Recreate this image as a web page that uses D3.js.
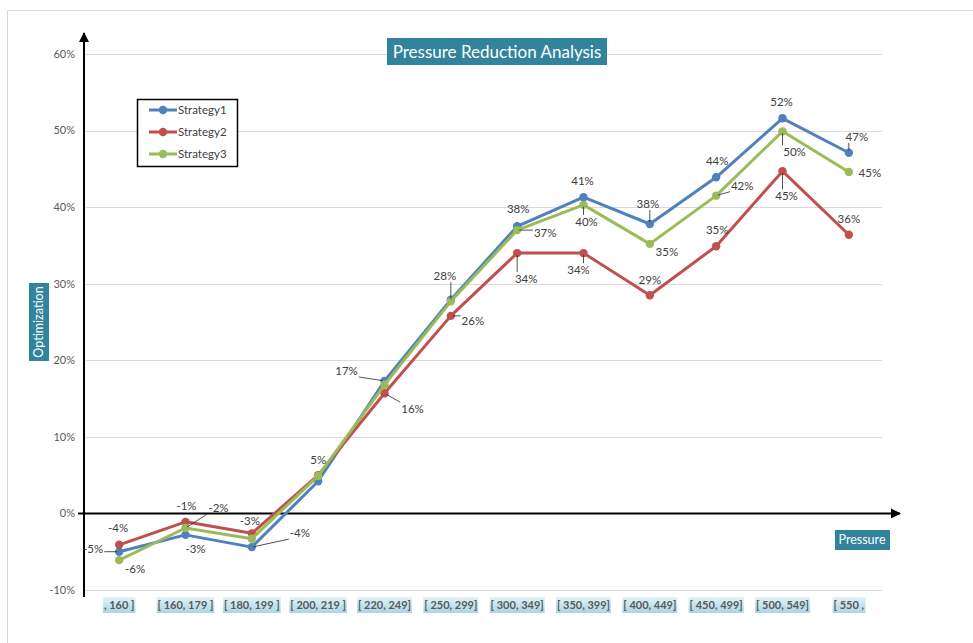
<!DOCTYPE html>
<html>
<head>
<meta charset="utf-8">
<script src="https://cdn.jsdelivr.net/npm/d3@7/dist/d3.min.js"></script>
<style>
  html, body { margin: 0; padding: 0; background: #fff; }
  svg { display: block; font-family: Lato, "Open Sans", "Noto Sans", sans-serif; }
</style>
</head>
<body>
<svg id="chart" width="973" height="643"></svg>
<script>
// ---- data ----
const categories = [", 160 ]", "[ 160, 179 ]", "[ 180, 199 ]", "[ 200, 219 ]", "[ 220, 249]", "[ 250, 299]",
  "[ 300, 349]", "[ 350, 399]", "[ 400, 449]", "[ 450, 499]", "[ 500, 549]", "[ 550 ,"];
const seriesNames = ["Strategy1", "Strategy2", "Strategy3"];
const strategy1 = [-5.0, -2.8, -4.4, 4.2, 17.3, 27.9, 37.5, 41.3, 37.8, 43.9, 51.6, 47.1];
const strategy2 = [-4.1, -1.1, -2.6, 5.0, 15.7, 25.8, 34.0, 34.0, 28.5, 34.9, 44.7, 36.4];
const strategy3 = [-6.1, -1.9, -3.3, 4.9, 16.8, 27.7, 37.0, 40.3, 35.2, 41.5, 49.9, 44.6];
const yTicks = [-10, 0, 10, 20, 30, 40, 50, 60];

// ---- label placement (offset from the point, null = no label, third value 1 = draw a connector) ----
const labelOffsets1 = [[-26, -3, 1], [10, 14, 0], [48, -14, 1], null, [-38, -10, 1], null,
  [1, -17, 0], [-1, -16, 0], [-2, -20, 1], [1, -16, 0], [-1, -16, 0], [8, -16, 1]];
const labelOffsets2 = [[-1, -17, 0], [1, -16, 0], [-2, -12, 0], [0, -15, 0], [28, 16, 1], [22, 5, 1],
  [9, 26, 1], [-5, 17, 1], [0, -15, 0], [1, -16, 0], [4, 25, 1], [0, -16, 0]];
const labelOffsets3 = [[16, 9, 0], [33, -20, 1], null, null, null, [-6, -25, 1],
  [28, 3, 1], [3, 17, 1], [17, 8, 0], [26, -10, 1], [12, 21, 1], [21, 1, 0]];

const colors = ["#4F81BD", "#C0504D", "#9BBB59"];
const teal = "#31849B";

const svg = d3.select("#chart");

// outer chart frame (only top and left edges fall inside the view)
svg.append("path").attr("d", "M7.5,643 V10.5 H973").attr("fill", "none").attr("stroke", "#d9d9d9").attr("stroke-width", 1);

const x = d3.scalePoint().domain(categories).range([86, 882]).padding(0.5);
const y = d3.scaleLinear().domain([-10, 60]).range([590, 54]);

// gridlines
svg.append("g").selectAll("line").data(yTicks).join("line")
  .attr("x1", 86).attr("x2", 882)
  .attr("y1", d => Math.round(y(d)) + 0.5).attr("y2", d => Math.round(y(d)) + 0.5)
  .attr("stroke", "#d9d9d9").attr("stroke-width", 1);

// y tick labels
svg.append("g").selectAll("text").data(yTicks).join("text")
  .attr("x", 75).attr("y", d => y(d)).attr("dy", "0.35em")
  .attr("text-anchor", "end").attr("font-size", 11).attr("fill", "#595959")
  .text(d => d + "%");

// arrowhead marker
const defs = svg.append("defs");
defs.append("marker").attr("id", "arrow").attr("viewBox", "0 0 10 10")
  .attr("refX", 9).attr("refY", 5).attr("markerWidth", 5).attr("markerHeight", 5)
  .attr("orient", "auto-start-reverse")
  .append("path").attr("d", "M0,0 L10,5 L0,10 z").attr("fill", "#000");

const lg = defs.append("linearGradient").attr("id", "catbg").attr("x1", 0).attr("x2", 0).attr("y1", 0).attr("y2", 1);
lg.append("stop").attr("offset", "0%").attr("stop-color", "#e4f2f7");
lg.append("stop").attr("offset", "100%").attr("stop-color", "#a9d6e3");

// category labels with shaded backgrounds
const catG = svg.append("g").selectAll("g").data(categories).join("g")
  .attr("transform", d => `translate(${x(d)},605)`);
catG.append("text")
  .attr("text-anchor", "middle").attr("dy", "0.35em")
  .attr("font-size", 11).attr("font-weight", 700).attr("fill", "#595959")
  .text(d => d);
catG.each(function () {
  const g = d3.select(this);
  const bb = g.select("text").node().getBBox();
  g.insert("rect", "text").attr("x", bb.x - 1).attr("y", -8).attr("width", bb.width + 2).attr("height", 16)
    .attr("fill", "url(#catbg)");
});

// axes with arrows
svg.append("line").attr("x1", 84).attr("x2", 84).attr("y1", 597).attr("y2", 33)
  .attr("stroke", "#000").attr("stroke-width", 2).attr("marker-end", "url(#arrow)");
svg.append("line").attr("x1", 78).attr("x2", 900).attr("y1", y(0)).attr("y2", y(0))
  .attr("stroke", "#000").attr("stroke-width", 2).attr("marker-end", "url(#arrow)");

// series
const allSeries = [strategy1, strategy2, strategy3];
const allOffsets = [labelOffsets1, labelOffsets2, labelOffsets3];
const line = d3.line().x((d, i) => x(categories[i])).y(d => y(d));
const fmt = v => (v < 0 ? -Math.round(-v) : Math.round(v)) + "%";

allSeries.forEach((vals, s) => {
  const g = svg.append("g");
  g.append("path").datum(vals).attr("d", line)
    .attr("fill", "none").attr("stroke", colors[s]).attr("stroke-width", 3).attr("stroke-linejoin", "round");
  g.selectAll("circle").data(vals).join("circle")
    .attr("cx", (d, i) => x(categories[i])).attr("cy", d => y(d)).attr("r", 4.2)
    .attr("fill", colors[s]);
});

// data labels and leader lines
const labelLayer = svg.append("g");
allSeries.forEach((vals, s) => {
  vals.forEach((v, i) => {
    const off = allOffsets[s][i];
    if (!off) return;
    const px = x(categories[i]), py = y(v);
    const lx = px + off[0], ly = py + off[1];
    const t = labelLayer.append("text").attr("x", lx).attr("y", ly).attr("dy", "0.35em")
      .attr("text-anchor", "middle").attr("font-size", 11.5).attr("fill", "#404040").text(fmt(v));
    if (off[2]) {
      const bb = t.node().getBBox();
      const ex = Math.max(bb.x - 1, Math.min(px, bb.x + bb.width + 1));
      const ey = Math.max(bb.y, Math.min(py, bb.y + bb.height));
      const ang = Math.atan2(py - ey, px - ex);
      const len = Math.hypot(px - ex, py - ey);
      labelLayer.append("line")
        .attr("x1", ex).attr("y1", ey)
        .attr("x2", ex + Math.cos(ang) * (len - 2)).attr("y2", ey + Math.sin(ang) * (len - 2))
        .attr("stroke", "#262626").attr("stroke-width", 0.8);
    }
  });
});

// title
const tg = svg.append("g");
tg.append("rect").attr("x", 387).attr("y", 38).attr("width", 220).attr("height", 27).attr("fill", teal);
tg.append("text").attr("x", 497).attr("y", 52).attr("dy", "0.35em").attr("text-anchor", "middle")
  .attr("font-size", 17).attr("fill", "#fff").text("Pressure Reduction Analysis");

// axis titles
const yt = svg.append("g").attr("transform", "translate(39,322) rotate(-90)");
yt.append("rect").attr("x", -39).attr("y", -10).attr("width", 78).attr("height", 20).attr("fill", teal);
yt.append("text").attr("dy", "0.35em").attr("text-anchor", "middle").attr("font-size", 12.5)
  .attr("fill", "#fff").text("Optimization");

const xt = svg.append("g").attr("transform", "translate(862,540)");
xt.append("rect").attr("x", -27).attr("y", -10).attr("width", 55).attr("height", 20).attr("fill", teal);
xt.append("text").attr("dy", "0.35em").attr("text-anchor", "middle").attr("font-size", 12.5)
  .attr("fill", "#fff").text("Pressure");

// legend
const leg = svg.append("g").attr("transform", "translate(137,99)");
leg.append("rect").attr("x", 0.5).attr("y", 0.5).attr("width", 100).attr("height", 67)
  .attr("fill", "#fff").attr("stroke", "#000").attr("stroke-width", 1.5);
const items = leg.selectAll("g.item").data(seriesNames).join("g").attr("class", "item")
  .attr("transform", (d, i) => `translate(0,${11 + i * 22})`);
items.append("line").attr("x1", 12).attr("x2", 40).attr("stroke", (d, i) => colors[i]).attr("stroke-width", 3);
items.append("circle").attr("cx", 26).attr("r", 4.2).attr("fill", (d, i) => colors[i]);
items.append("text").attr("x", 41).attr("dy", "0.35em").attr("font-size", 11.5).attr("fill", "#404040").text(d => d);
</script>
</body>
</html>
